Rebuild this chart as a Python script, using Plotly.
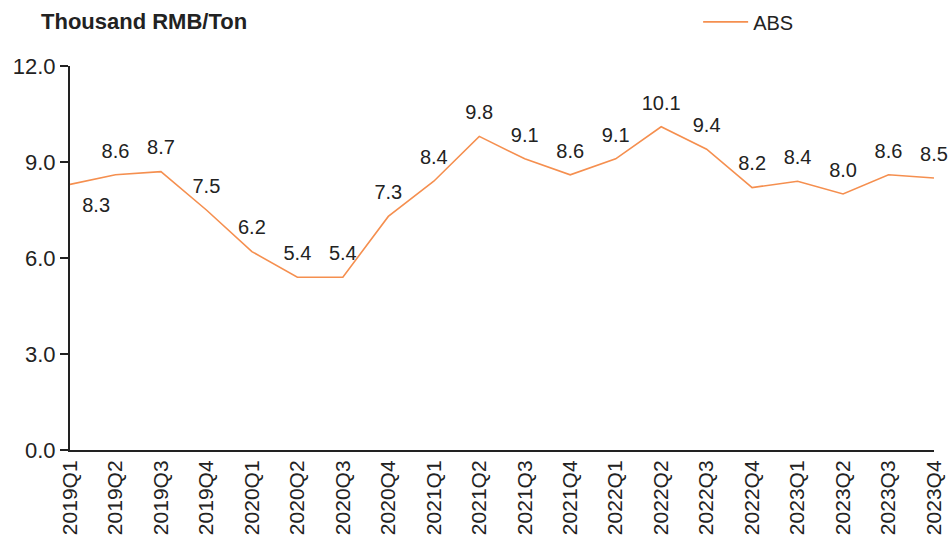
import plotly.graph_objects as go

categories = ["2019Q1","2019Q2","2019Q3","2019Q4","2020Q1","2020Q2","2020Q3","2020Q4",
              "2021Q1","2021Q2","2021Q3","2021Q4","2022Q1","2022Q2","2022Q3","2022Q4",
              "2023Q1","2023Q2","2023Q3","2023Q4"]
abs_values = [8.3, 8.6, 8.7, 7.5, 6.2, 5.4, 5.4, 7.3, 8.4, 9.8, 9.1, 8.6, 9.1, 10.1, 9.4, 8.2, 8.4, 8.0, 8.6, 8.5]
y_ticks = [0, 3, 6, 9, 12]
y_tick_labels = ["0.0", "3.0", "6.0", "9.0", "12.0"]

positions = ["bottom right"] + ["top center"] * (len(abs_values) - 1)

FONT = "Liberation Sans, Arial, sans-serif"
fig = go.Figure()
fig.add_trace(go.Scatter(
    x=categories, y=abs_values, mode="lines+markers+text", name="ABS",
    line=dict(color="#F58F4F", width=1.6),
    marker=dict(size=18, color="rgba(0,0,0,0)"),
    text=[f"{v:.1f}" for v in abs_values],
    textposition=positions,
    textfont=dict(family=FONT, size=20, color="#222222"),
    cliponaxis=False,
))

fig.update_layout(
    width=948, height=539,
    margin=dict(l=70, r=14, t=66, b=89, autoexpand=False),
    plot_bgcolor="white", paper_bgcolor="white",
    font=dict(family=FONT, size=20, color="#222222"),
    showlegend=True,
    legend=dict(x=0.727, y=1.115, xanchor="left", yanchor="middle", itemwidth=45,
                font=dict(size=20, color="#222222"), bgcolor="rgba(0,0,0,0)"),
    annotations=[dict(text="<b>Thousand RMB/Ton</b>", x=0, y=1.1146, xref="paper", yref="paper",
                      xanchor="left", yanchor="middle", xshift=-31, showarrow=False,
                      font=dict(family=FONT, size=22, color="#222222"))],
)
fig.update_xaxes(
    type="category", range=[0, len(categories) - 1],
    showline=True, linecolor="#222222", linewidth=2,
    showgrid=False, ticks="", tickangle=-90,
    tickfont=dict(family=FONT, size=21, color="#222222"),
)
fig.update_yaxes(
    range=[0, 12], tickvals=y_ticks, ticktext=y_tick_labels,
    showline=True, linecolor="#222222", linewidth=2,
    showgrid=False, zeroline=False, ticks="outside", ticklen=8, tickwidth=1.5, tickcolor="#222222",
    tickfont=dict(family=FONT, size=22, color="#222222"),
)
fig.write_html("out.html", config={"displayModeBar": False},
               post_script="document.body.style.margin='0';document.body.style.overflow='hidden';")
